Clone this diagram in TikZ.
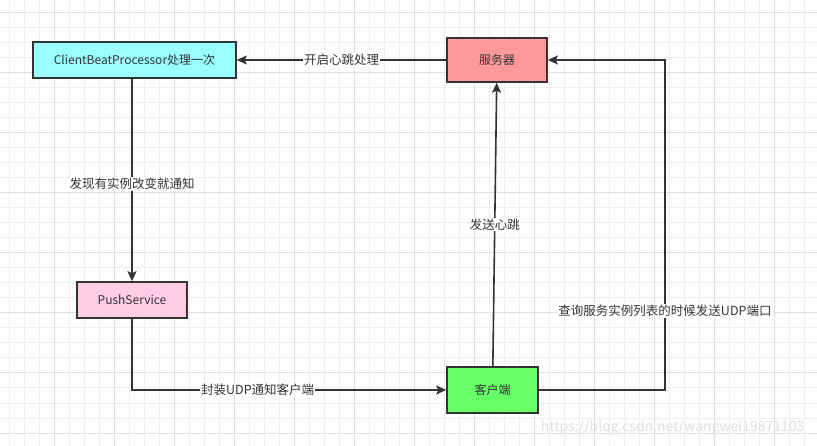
\documentclass[tikz,border=0pt]{standalone}
\usepackage{fontspec}
\setmainfont{Noto Sans CJK SC}
\usetikzlibrary{arrows.meta}
\definecolor{linegray}{HTML}{333333}
\definecolor{textgray}{HTML}{333333}
\definecolor{gridminor}{HTML}{EEEEEE}
\definecolor{gridmajor}{HTML}{DEDEDE}
\definecolor{cyanfill}{HTML}{99FFFF}
\definecolor{redfill}{HTML}{FF9999}
\definecolor{pinkfill}{HTML}{FFCCE6}
\definecolor{greenfill}{HTML}{66FF66}
\tikzset{
  box/.style={draw=linegray, line width=1.6pt, inner sep=0pt, text=textgray,
    font=\fontsize{12}{14}\selectfont},
  link/.style={draw=linegray, line width=1.6pt,
    -{Stealth[length=10pt,width=9pt,inset=2pt]}},
  tag/.style={fill=white, inner sep=1pt, text=textgray,
    font=\fontsize{12.5}{14}\selectfont}
}
\begin{document}
\begin{tikzpicture}[x=1pt, y=-1pt]
    \useasboundingbox (0,0) rectangle (817,446);
    \fill[white] (0,0) rectangle (817,446);

    % 背景网格
    \foreach \gx in {9,24,...,817} \draw[gridminor, line width=1pt] (\gx,0) -- (\gx,446);
    \foreach \gy in {13,28,...,446} \draw[gridminor, line width=1pt] (0,\gy) -- (817,\gy);
    \foreach \gx in {54,114,...,817} \draw[gridmajor, line width=1pt] (\gx,0) -- (\gx,446);
    \foreach \gy in {13,73,...,446} \draw[gridmajor, line width=1pt] (0,\gy) -- (817,\gy);

    % 节点
    \node[box, fill=cyanfill, minimum width=203pt, minimum height=36pt] (cbp) at (134.5,60) {ClientBeatProcessor处理一次};
    \node[box, fill=redfill, minimum width=100pt, minimum height=44pt] (server) at (497,60) {服务器};
    \node[box, fill=pinkfill, minimum width=110pt, minimum height=36pt] (push) at (132,300) {PushService};
    \node[box, fill=greenfill, minimum width=91pt, minimum height=46pt] (client) at (492.5,390) {客户端};
    \coordinate (bend) at (665,60);

    % 连接
    \draw[link] (server) -- node[tag] {开启心跳处理} (cbp);
    \draw[link] (cbp.south -| push) -- node[tag, pos=0.52] {发现有实例改变就通知} (push);
    \draw[link] (push) |- node[tag, pos=0.7] {封装UDP通知客户端} (client);
    \draw[link] (client) -- node[tag] {发送心跳} (server);
    \draw[link] (client) -| node[tag, pos=0.62] {查询服务实例列表的时候发送UDP端口} (bend) -- (server);

    % 水印
    \node[text=gray!25, font=\fontsize{14}{16}\selectfont, anchor=east] (mark) at (808,428) {https://blog.csdn.net/wangwei19871103};
\end{tikzpicture}
\end{document}
